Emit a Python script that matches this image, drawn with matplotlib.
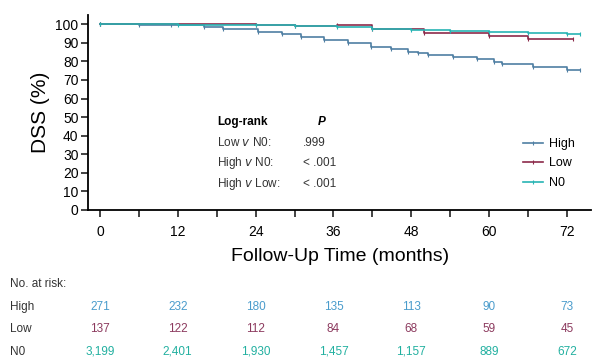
import numpy as np
import matplotlib
matplotlib.use('Agg')
import matplotlib.pyplot as plt
import matplotlib.transforms as mtransforms

plt.rcParams['font.family'] = ['Liberation Sans Narrow', 'Liberation Sans', 'DejaVu Sans']

# step curves (months, DSS %)
high_t = [0, 6, 11, 16, 19, 24.4, 28, 31, 34.6, 38.2, 41.8, 44.9, 47.5, 49, 50.5, 54.5, 58.2, 60.7, 62, 66.8, 72, 74]
high_s = [100, 99.8, 99.5, 98.6, 97.2, 95.9, 94.6, 93.2, 91.4, 90.0, 87.8, 86.4, 85.1, 84.6, 83.3, 82.4, 81.0, 79.7, 78.8, 77.0, 75.6, 75.6]
low_t = [0, 24, 30, 36.5, 42, 50, 60, 66, 73]
low_s = [100, 99.5, 99.2, 99.3, 97.3, 95.5, 93.8, 91.8, 91.8]
n0_t = [0, 12, 24, 30, 36.5, 42, 48, 54, 60, 66, 72, 74]
n0_s = [100, 99.8, 99.5, 99.2, 98.7, 97.3, 96.9, 96.5, 96.0, 95.2, 94.8, 94.8]

groups = ['High', 'Low', 'N0']
colors = ['#4f7fa3', '#8c2a4a', '#28b4b4']
risk_colors = ['#4a9ccc', '#8c3a5e', '#22b0a0']
risk_times = [0, 12, 24, 36, 48, 60, 72]
risk_high = ['271', '232', '180', '135', '113', '90', '73']
risk_low = ['137', '122', '112', '84', '68', '59', '45']
risk_n0 = ['3,199', '2,401', '1,930', '1,457', '1,157', '889', '672']

logrank_rows = ['Low $\\it{v}$ N0:', 'High $\\it{v}$ N0:', 'High $\\it{v}$ Low:']
logrank_p = ['.999', '< .001', '< .001']

fig = plt.figure(figsize=(6, 3.63), dpi=100)
ax = fig.add_axes([0.147, 0.4215, 0.838, 0.5375])

for t, s, c, name in zip([high_t, low_t, n0_t], [high_s, low_s, n0_s], colors, groups):
    ax.plot(t, s, drawstyle='steps-post', color=c, lw=1.2,
            marker='|', ms=3, mew=0.8, label=name)

ax.set_xlim(-1.8, 75.7)
ax.set_ylim(0, 105)
ax.set_xticks(risk_times)
ax.set_xticks(np.arange(6, 72, 12), minor=True)
ax.set_yticks(np.arange(0, 101, 10))
ax.spines['top'].set_visible(False)
ax.spines['right'].set_visible(False)
ax.spines['left'].set_linewidth(1.3)
ax.spines['bottom'].set_linewidth(1.3)
ax.tick_params(axis='both', which='both', direction='out', width=1.2, labelsize=10, color='#222222')
ax.tick_params(axis='x', which='major', length=5, pad=6)
ax.tick_params(axis='x', which='minor', length=5)
ax.tick_params(axis='y', length=5, pad=2)
ax.set_ylabel('DSS (%)', fontsize=15, labelpad=4)
ax.set_xlabel('Follow-Up Time (months)', fontsize=14, labelpad=6)

ax.legend(loc='lower right', bbox_to_anchor=(0.99, 0.05), frameon=False, fontsize=9,
          handlelength=1.6, labelspacing=0.6, handletextpad=0.5)

# log-rank table
fig.text(217 / 600, 1 - 122 / 363, 'Log-rank', fontsize=8.5, fontweight='bold', va='center')
fig.text(318 / 600, 1 - 122 / 363, 'P', fontsize=8.5, fontweight='bold', style='italic', va='center')
for i, (row, p) in enumerate(zip(logrank_rows, logrank_p)):
    y = 1 - (143 + 20.5 * i) / 363
    fig.text(217 / 600, y, row, fontsize=8.5, va='center', color='#333333')
    fig.text(303 / 600, y, p, fontsize=8.5, va='center', color='#333333')

# numbers at risk
trans = mtransforms.blended_transform_factory(ax.transData, fig.transFigure)
fig.text(10 / 600, 1 - 284 / 363, 'No. at risk:', fontsize=8.5, va='center', color='#333333')
for i, (name, vals) in enumerate(zip(groups, [risk_high, risk_low, risk_n0])):
    y = 1 - (307 + 22.5 * i) / 363
    fig.text(10 / 600, y, name, fontsize=8.5, va='center', color='#333333')
    for t, v in zip(risk_times, vals):
        ax.text(t, y, v, transform=trans, fontsize=8.5, ha='center', va='center',
                color=risk_colors[i])

fig.savefig('out.png', dpi=100)
